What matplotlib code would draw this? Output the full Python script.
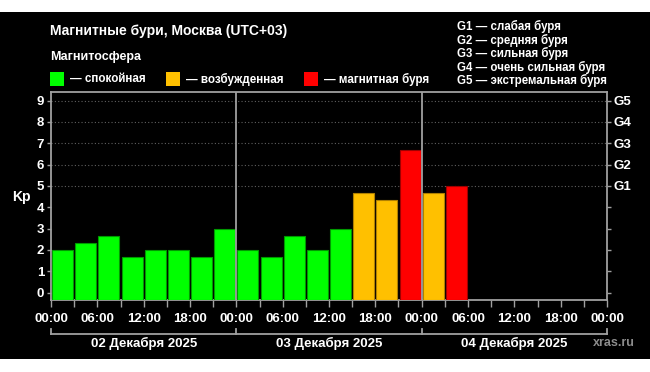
import matplotlib
matplotlib.use("Agg")
import matplotlib.pyplot as plt
import matplotlib.patches as mpatches
import matplotlib.transforms as mtransforms

plt.rcParams['font.family'] = ['Liberation Sans', 'DejaVu Sans']
plt.rcParams['font.weight'] = 'bold'

# Kp values, 3-hour intervals starting 02 Dec 2025 00:00
kp = [2.0, 2.33, 2.67, 1.67, 2.0, 2.0, 1.67, 3.0,
      2.0, 1.67, 2.67, 2.0, 3.0, 4.67, 4.33, 6.67,
      4.67, 5.0]
days = ['02 Декабря 2025', '03 Декабря 2025', '04 Декабря 2025']
hour_labels = ['00:00', '06:00', '12:00', '18:00'] * 3 + ['00:00']
g_labels = ['G1', 'G2', 'G3', 'G4', 'G5']
g_desc = ['G1 — слабая буря', 'G2 — средняя буря', 'G3 — сильная буря',
          'G4 — очень сильная буря', 'G5 — экстремальная буря']
legend_names = ['— спокойная', '— возбужденная', '— магнитная буря']

GREEN, ORANGE, RED = '#00ff00', '#ffc000', '#ff0000'
EDGES = {GREEN: '#009900', ORANGE: '#b08000', RED: '#a00000'}
SPINE = '#a0a0a0'


def kp_color(v):
    if v < 4:
        return GREEN
    if v < 5:
        return ORANGE
    return RED


fig = plt.figure(figsize=(6.5, 3.72), dpi=100, facecolor='white')
fig.patches.append(mpatches.Rectangle((0, 1 - 359 / 372), 1, 347 / 372,
                                      transform=fig.transFigure,
                                      facecolor='black', edgecolor='none', zorder=-10))

ax = fig.add_axes([51 / 650, 72 / 372, 556 / 650, 208 / 372])
ax.set_facecolor('black')
ymin, ymax = -0.35, 9.4
ax.set_xlim(0, 72)
ax.set_ylim(ymin, ymax)

for i, v in enumerate(kp):
    c = kp_color(v)
    ax.bar(1.5 + 3 * i, v - ymin, bottom=ymin, width=2.72, color=c,
           edgecolor=EDGES[c], linewidth=0.8, zorder=3)

for lvl in range(5, 10):
    ax.axhline(lvl, color='#606060', linestyle=(0, (1, 2)), linewidth=0.8, zorder=1)
for d in (24, 48):
    ax.axvline(d, color=SPINE, linewidth=1.3, zorder=4)

for s in ax.spines.values():
    s.set_color(SPINE)
    s.set_linewidth(1.3)

ax.set_xticks(range(0, 73, 3))
ax.set_xticklabels([hour_labels[i // 2] if i % 2 == 0 else '' for i in range(25)])
ax.set_yticks(range(10))
ax.tick_params(axis='both', colors=SPINE, length=5, width=1, labelcolor='white', labelsize=9.5)
ax.tick_params(axis='x', pad=4)
ax.tick_params(axis='y', length=3, pad=2)

ax2 = ax.twinx()
ax2.set_ylim(ymin, ymax)
ax2.set_yticks(range(10))
ax2.set_yticklabels([''] * 5 + g_labels)
ax2.tick_params(axis='y', colors=SPINE, length=3, width=1, labelcolor='white', labelsize=9.5, pad=2)
for s in ax2.spines.values():
    s.set_visible(False)

# day brackets below time labels
trans = mtransforms.blended_transform_factory(ax.transData, ax.transAxes)
yb, yt = -34 / 208, -29 / 208
ax.plot([0, 72], [yb, yb], color=SPINE, linewidth=1.3, transform=trans, clip_on=False)
for d in (0, 24, 48, 72):
    ax.plot([d, d], [yb, yt], color=SPINE, linewidth=1.3, transform=trans, clip_on=False)
for i, name in enumerate(days):
    ax.text(12 + 24 * i, -43 / 208, name, transform=trans, color='white',
            fontsize=9.5, ha='center', va='center')

fig.text(614 / 650, 1 - 343 / 372, 'xras.ru', color='#8c8c8c', fontsize=9,
         ha='center', va='center')
fig.text(21 / 650, 1 - 197 / 372, 'Kp', color='white', fontsize=10, ha='center', va='center')

fig.text(50 / 650, 1 - 31 / 372, 'Магнитные бури, Москва (UTC+03)', color='white',
         fontsize=10, ha='left', va='center')
fig.text(50 / 650, 1 - 57 / 372, 'Магнитосфера', color='white', fontsize=9,
         ha='left', va='center')

for x0, c, name in zip((50, 166, 304), (GREEN, ORANGE, RED), legend_names):
    fig.patches.append(mpatches.Rectangle((x0 / 650, 1 - 86 / 372), 14 / 650, 14 / 372,
                                          transform=fig.transFigure, facecolor=c,
                                          edgecolor='none'))
    fig.text((x0 + 20) / 650, 1 - 79 / 372, name, color='white', fontsize=8.4,
             ha='left', va='center')

for i, line in enumerate(g_desc):
    fig.text(457 / 650, 1 - (26.7 + 13.5 * i) / 372, line, color='white', fontsize=8.3,
             ha='left', va='center')

fig.savefig('out.png', dpi=100, facecolor='white')
